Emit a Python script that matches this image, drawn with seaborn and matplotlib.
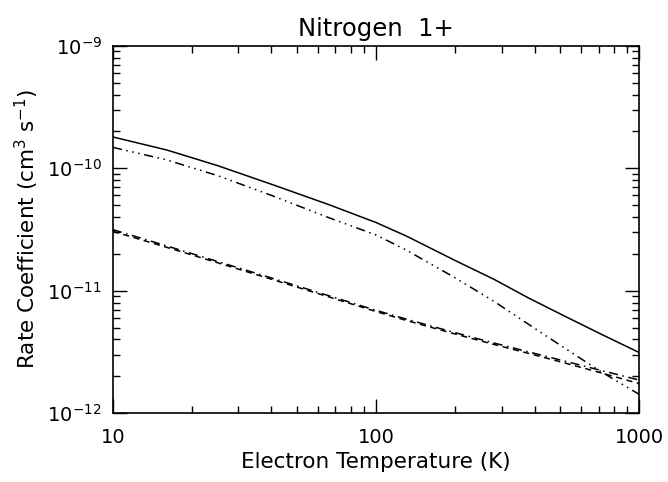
import math
import matplotlib
matplotlib.use("Agg")
import matplotlib.pyplot as plt
import matplotlib.ticker as mticker
import seaborn as sns
import pandas as pd

# electron temperature grid (K) and rate coefficients (cm^3 s^-1)
temperature = [10, 16, 25, 40, 66, 100, 130, 200, 280, 380, 520, 710, 1000]
rate_total = [1.80e-10, 1.41e-10, 1.05e-10, 7.4e-11, 5.05e-11, 3.6e-11, 2.8e-11,
              1.76e-11, 1.24e-11, 8.7e-12, 6.2e-12, 4.45e-12, 3.12e-12]
rate_upper = [1.48e-10, 1.17e-10, 8.7e-11, 6.0e-11, 3.95e-11, 2.85e-11, 2.15e-11,
              1.27e-11, 8.2e-12, 5.3e-12, 3.4e-12, 2.2e-12, 1.42e-12]
rate_low_a = [3.15e-11, 2.32e-11, 1.73e-11, 1.27e-11, 9.1e-12, 6.9e-12, 5.86e-12,
              4.53e-12, 3.74e-12, 3.16e-12, 2.66e-12, 2.24e-12, 1.86e-12]
rate_low_b = [3.05e-11, 2.26e-11, 1.69e-11, 1.24e-11, 8.9e-12, 6.75e-12, 5.72e-12,
              4.42e-12, 3.64e-12, 3.07e-12, 2.57e-12, 2.14e-12, 1.74e-12]

df = pd.DataFrame({
    "T": temperature,
    "total": rate_total,
    "upper": rate_upper,
    "low_a": rate_low_a,
    "low_b": rate_low_b,
}).melt(id_vars="T", var_name="series", value_name="rate")

sns.set_style("white")
plt.rcParams["font.family"] = ["DejaVu Sans"]
plt.rcParams["mathtext.default"] = "regular"
plt.rcParams["text.color"] = "black"
plt.rcParams["axes.labelcolor"] = "black"

fig = plt.figure(figsize=(6.68, 4.82), dpi=100)
ax = fig.add_axes([0.169, 0.143, 0.788, 0.762])

dashes = {
    "total": "",
    "upper": (6, 3, 1, 3, 1, 3, 1, 3),
    "low_a": (6, 3, 1, 3),
    "low_b": (4, 3),
}
sns.lineplot(data=df, x="T", y="rate", style="series", dashes=dashes,
             color="black", linewidth=1.1, legend=False, ax=ax)

ax.set_xscale("log")
ax.set_yscale("log")
ax.set_xlim(10, 1000)
ax.set_ylim(1e-12, 1e-9)

ax.xaxis.set_major_formatter(mticker.FuncFormatter(lambda v, p: f"{v:g}"))
ax.yaxis.set_major_formatter(mticker.FuncFormatter(
    lambda v, p: r"$10^{%d}$" % round(math.log10(v))))
ax.xaxis.set_minor_formatter(mticker.NullFormatter())
ax.yaxis.set_minor_formatter(mticker.NullFormatter())

ax.tick_params(which="both", direction="in", top=True, right=True,
               bottom=True, left=True, colors="black", labelsize=14)
ax.tick_params(axis="x", which="major", pad=11)
ax.tick_params(axis="y", which="major", pad=8)
ax.tick_params(which="major", length=10, width=1)
ax.tick_params(which="minor", length=5, width=1)
for s in ax.spines.values():
    s.set_color("black")
    s.set_linewidth(1.2)

ax.set_xlabel("Electron Temperature (K)", fontsize=15.5, labelpad=3, color="black")
ax.set_ylabel(r"Rate Coefficient (cm$^3$ s$^{-1}$)", fontsize=15.5, labelpad=4,
              color="black")
ax.set_title("Nitrogen  1+", fontsize=17.5, pad=7, color="black")

fig.savefig("out.png", dpi=100)
